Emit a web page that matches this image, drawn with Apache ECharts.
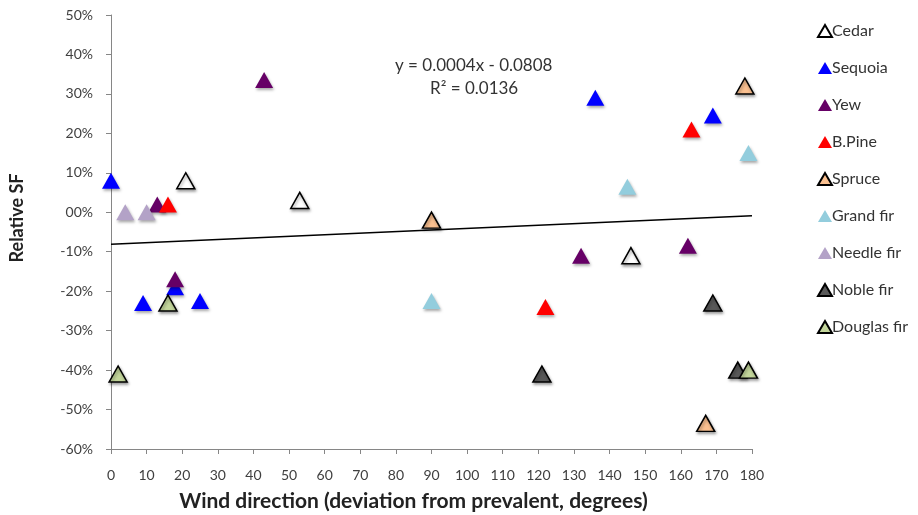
<!DOCTYPE html>
<html><head><meta charset="utf-8">
<script src="https://cdn.jsdelivr.net/npm/echarts@6/dist/echarts.min.js"></script>
<style>html,body{margin:0;padding:0;background:#fff}#c{width:918px;height:515px}</style>
</head><body><div id="c"></div>
<script>
// Data: [wind direction (deg), relative SF]
var cedar = [[21, 0.08], [53, 0.03], [146, -0.11]];
var sequoia = [[0, 0.08], [9, -0.23], [18, -0.19], [25, -0.225], [136, 0.29], [169, 0.245]];
var yew = [[43, 0.335], [13, 0.02], [18, -0.17], [132, -0.11], [162, -0.085]];
var bpine = [[16, 0.02], [122, -0.24], [163, 0.21]];
var spruce = [[90, -0.02], [178, 0.32], [167, -0.535]];
var grandFir = [[90, -0.225], [145, 0.065], [179, 0.15]];
var needleFir = [[4, 0.0], [10, 0.0]];
var nobleFir = [[121, -0.41], [169, -0.23], [176, -0.40]];
var douglasFir = [[2, -0.41], [16, -0.23], [179, -0.40]];
var seriesNames = ['Cedar', 'Sequoia', 'Yew', 'B.Pine', 'Spruce', 'Grand fir', 'Needle fir', 'Noble fir', 'Douglas fir'];
var trendSlope = 0.0004, trendIntercept = -0.0808;
var trendX = [0, 180];
var equationText = 'y = 0.0004x - 0.0808';
var r2Text = 'R² = 0.0136';

var FONT = 'Lato, "Open Sans", sans-serif';
var styles = [
  {fill: '#ffffff', border: '#000000', bw: 1.5},
  {fill: '#0000ff', border: '#0000ff', bw: 0},
  {fill: '#660066', border: '#660066', bw: 0},
  {fill: '#ff0000', border: '#ff0000', bw: 0},
  {fill: '#fac090', border: '#000000', bw: 1.5},
  {fill: '#93cddd', border: '#93cddd', bw: 0},
  {fill: '#b3a2c7', border: '#b3a2c7', bw: 0},
  {fill: '#595959', border: '#000000', bw: 1.5},
  {fill: '#c3d69b', border: '#000000', bw: 1.5}
];
var datas = [cedar, sequoia, yew, bpine, spruce, grandFir, needleFir, nobleFir, douglasFir];

var series = seriesNames.map(function (n, i) {
  return {
    name: n, type: 'scatter', data: datas[i], symbol: 'triangle', symbolSize: [18, 16],
    itemStyle: {color: styles[i].fill, borderColor: styles[i].border, borderWidth: styles[i].bw,
      shadowBlur: 3, shadowColor: 'rgba(0,0,0,0.35)', shadowOffsetX: 1, shadowOffsetY: 2, opacity: 1},
    emphasis: {disabled: true}, z: 3
  };
});
series.push({
  name: 'trend', type: 'line', data: trendX.map(function (x) { return [x, trendSlope * x + trendIntercept]; }),
  symbol: 'none', lineStyle: {color: '#000', width: 1.5}, z: 2, silent: true
});

var chart = echarts.init(document.getElementById('c'), null, {renderer: 'canvas'});
chart.setOption({
  animation: false,
  backgroundColor: '#fff',
  textStyle: {fontFamily: FONT},
  grid: {left: 111, right: 166, top: 15, bottom: 66, containLabel: false, outerBoundsMode: 'none'},
  xAxis: {
    type: 'value', min: 0, max: 180, interval: 10,
    axisLine: {onZero: false, lineStyle: {color: '#868686', width: 1}},
    axisTick: {show: true, length: 5, lineStyle: {color: '#868686'}},
    axisLabel: {color: '#404040', fontSize: 14, fontFamily: FONT, margin: 19},
    splitLine: {show: false},
    name: 'Wind direction (deviation from prevalent, degrees)', nameLocation: 'middle', nameGap: 42,
    nameTextStyle: {color: '#222', fontSize: 21, fontWeight: 'bold', fontFamily: FONT, padding: [0, 36, 0, 0]}
  },
  yAxis: {
    type: 'value', min: -0.6, max: 0.5, interval: 0.1,
    axisLine: {show: true, lineStyle: {color: '#868686', width: 1}},
    axisTick: {show: true, length: 5, lineStyle: {color: '#868686'}},
    axisLabel: {color: '#404040', fontSize: 14, fontFamily: FONT, margin: 18,
      formatter: function (v) { var p = Math.round(v * 100); return p === 0 ? '00%' : p + '%'; }},
    splitLine: {show: false},
    name: 'Relative SF', nameLocation: 'middle', nameGap: 85, nameRotate: 90,
    nameTextStyle: {color: '#222', fontSize: 18, fontWeight: 'bold', fontFamily: FONT, padding: [0, 0, 0, 28]}
  },
  legend: {
    data: seriesNames, orient: 'vertical', left: 812, top: 18, itemGap: 21,
    icon: 'triangle', itemWidth: 14, itemHeight: 12,
    textStyle: {color: '#333', fontSize: 16, fontFamily: FONT, padding: [0, 0, 0, -5]},
    selectedMode: false
  },
  graphic: [
    {type: 'text', left: 395, top: 57, style: {text: equationText, fill: '#333', font: '17px ' + FONT}},
    {type: 'text', left: 430, top: 80, style: {text: r2Text, fill: '#333', font: '17px ' + FONT}}
  ],
  series: series
});
</script></body></html>
